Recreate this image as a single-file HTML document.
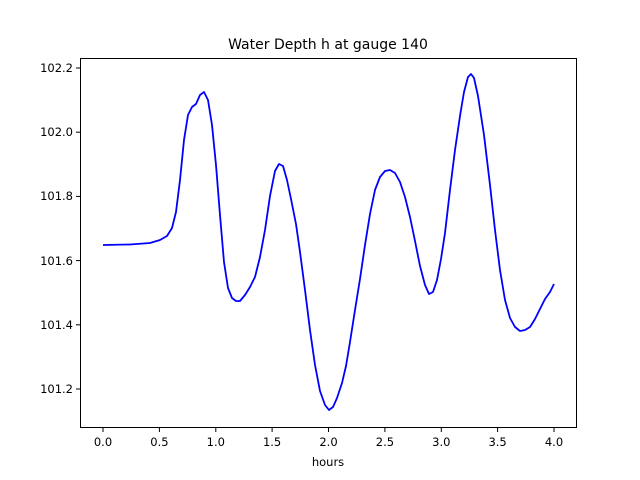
<!DOCTYPE html>
<html><head><style>body{margin:0;background:#fff}svg{display:block}text{font-family:"DejaVu Sans","Liberation Sans",sans-serif;fill:#000}</style></head>
<body>
<svg width="640" height="480" viewBox="0 0 640 480">
<rect width="640" height="480" fill="#fff"/>
<polyline fill="none" stroke="#0000ff" stroke-width="1.8" stroke-linejoin="round" points="103,245 130,244.5 150,243 160,240 167,236 172,228 176,212 180,180 184,140 188,115 192,107 196,104 200,95 204,92 208,100 212,125 216,165 220,215 224,262 228,288 232,298 236,301 240,301 245,295 250,287 255,277 260,257 265,230 270,196 275,171 279,164 283,166 287,180 291,199 296,224 300,252 305,290 310,330 315,365 320,391 325,405 329,410 333,407 337,398 342,383 346,366 350,342 355,310 360,279 365,245 370,214 375,190 380,177 385,171 390,170 395,173 400,182 405,197 410,217 415,241 420,266 425,285 429,294 433,292 437,280 441,259 445,233 450,190 455,150 460,116 464,92 468,77 471,74 474,78 478,96 484,135 490,185 495,230 500,270 505,300 510,318 515,327 520,331 525,330 530,327 535,319 540,309 545,299 550,292 554,284"/>
<rect x="80.5" y="58.5" width="496" height="369" fill="none" stroke="#000" stroke-width="1"/>
<g stroke="#000" stroke-width="1">
<line x1="103" y1="428" x2="103" y2="432"/><line x1="159.4" y1="428" x2="159.4" y2="432"/><line x1="215.8" y1="428" x2="215.8" y2="432"/><line x1="272.1" y1="428" x2="272.1" y2="432"/><line x1="328.5" y1="428" x2="328.5" y2="432"/><line x1="384.9" y1="428" x2="384.9" y2="432"/><line x1="441.3" y1="428" x2="441.3" y2="432"/><line x1="497.6" y1="428" x2="497.6" y2="432"/><line x1="554" y1="428" x2="554" y2="432"/>
<line x1="76" y1="389" x2="80" y2="389"/><line x1="76" y1="324.8" x2="80" y2="324.8"/><line x1="76" y1="260.6" x2="80" y2="260.6"/><line x1="76" y1="196.4" x2="80" y2="196.4"/><line x1="76" y1="132.2" x2="80" y2="132.2"/><line x1="76" y1="68" x2="80" y2="68"/>
</g>
<g font-size="11.5" text-anchor="middle">
<text x="103" y="446">0.0</text><text x="159.4" y="446">0.5</text><text x="215.8" y="446">1.0</text><text x="272.1" y="446">1.5</text><text x="328.5" y="446">2.0</text><text x="384.9" y="446">2.5</text><text x="441.3" y="446">3.0</text><text x="497.6" y="446">3.5</text><text x="554" y="446">4.0</text>
<text x="328" y="466">hours</text>
</g>
<g font-size="11.5" text-anchor="end">
<text x="73" y="393">101.2</text><text x="73" y="329">101.4</text><text x="73" y="265">101.6</text><text x="73" y="200">101.8</text><text x="73" y="136">102.0</text><text x="73" y="72">102.2</text>
</g>
<text x="328" y="49" font-size="14" text-anchor="middle">Water Depth h at gauge 140</text>
</svg>
</body></html>
